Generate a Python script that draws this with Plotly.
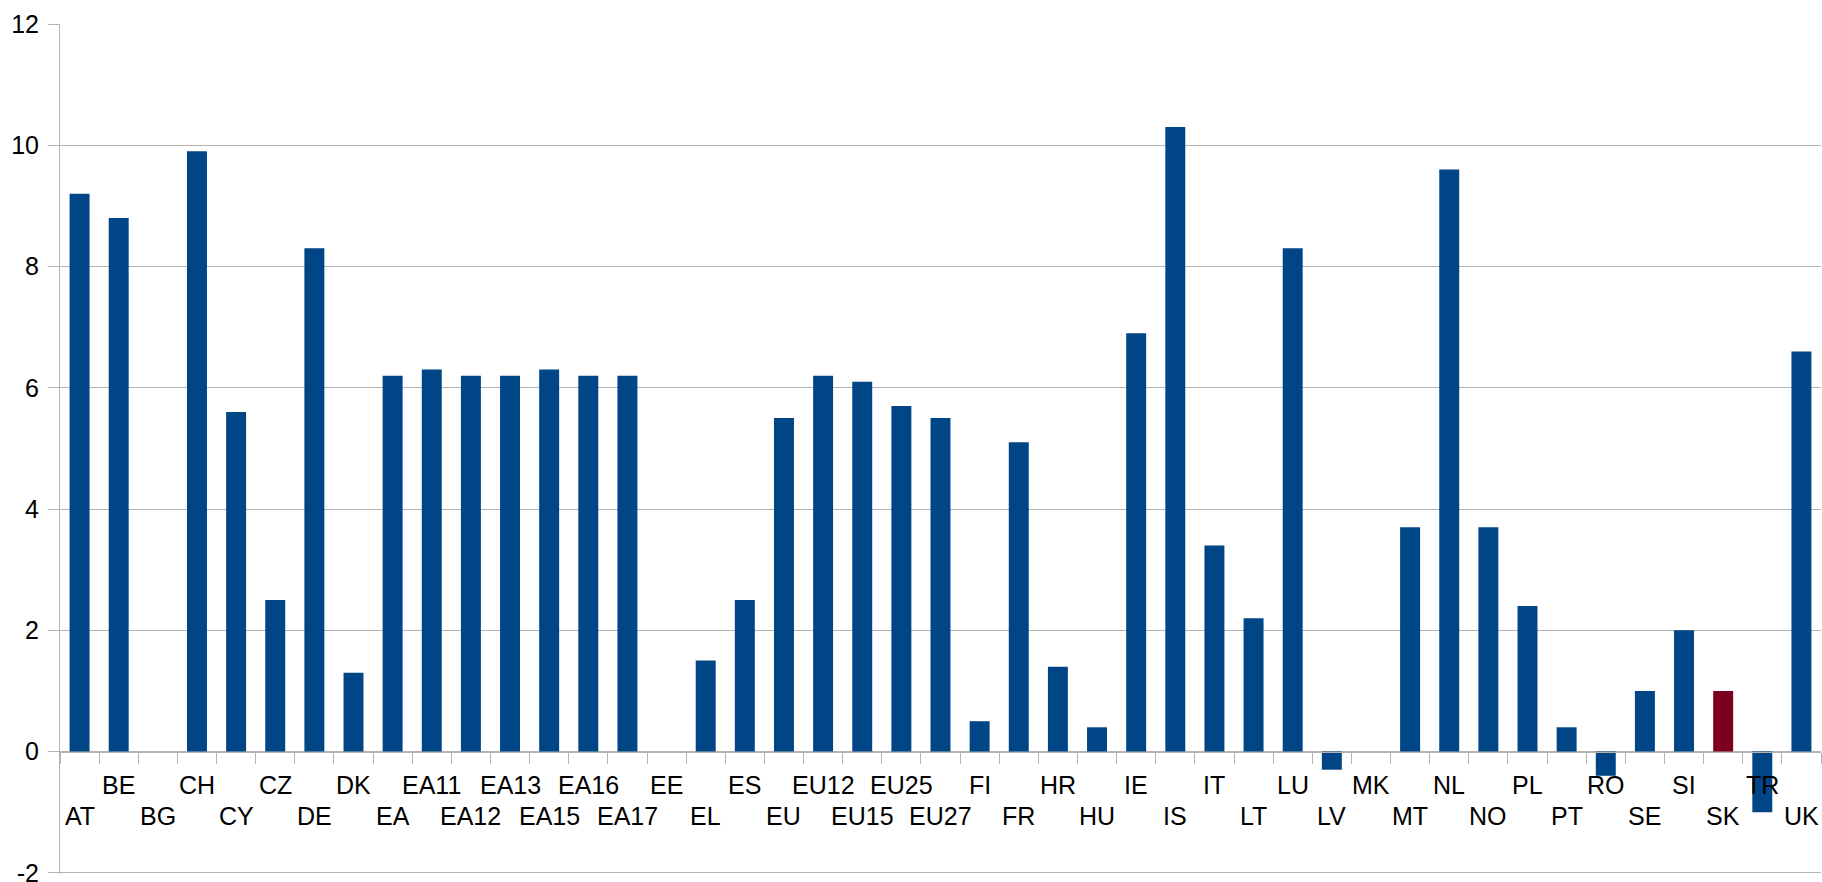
import plotly.graph_objects as go

categories = ["AT", "BE", "BG", "CH", "CY", "CZ", "DE", "DK", "EA", "EA11", "EA12", "EA13",
              "EA15", "EA16", "EA17", "EE", "EL", "ES", "EU", "EU12", "EU15", "EU25", "EU27",
              "FI", "FR", "HR", "HU", "IE", "IS", "IT", "LT", "LU", "LV", "MK", "MT", "NL",
              "NO", "PL", "PT", "RO", "SE", "SI", "SK", "TR", "UK"]
values = [9.2, 8.8, None, 9.9, 5.6, 2.5, 8.3, 1.3, 6.2, 6.3, 6.2, 6.2,
          6.3, 6.2, 6.2, None, 1.5, 2.5, 5.5, 6.2, 6.1, 5.7, 5.5,
          0.5, 5.1, 1.4, 0.4, 6.9, 10.3, 3.4, 2.2, 8.3, -0.3, None, 3.7, 9.6,
          3.7, 2.4, 0.4, -0.4, 1.0, 2.0, 1.0, -1.0, 6.6]
highlight = "SK"
y_ticks = [-2, 0, 2, 4, 6, 8, 10, 12]
y_tick_labels = ["-2", "0", "2", "4", "6", "8", "10", "12"]

BLUE = "#004586"
RED = "#7e0021"
GRID = "#b3b3b3"
FONT = "Liberation Sans, Arial, sans-serif"

colors = [RED if c == highlight else BLUE for c in categories]

fig = go.Figure()
fig.add_trace(go.Bar(x=categories, y=values, marker=dict(color=colors, line=dict(width=0)),
                     width=0.51, showlegend=False))

annotations = []
for i, c in enumerate(categories):
    upper = (i % 2 == 1)
    annotations.append(dict(x=c, y=0, xref="x", yref="y", text=c, showarrow=False,
                            xanchor="center", yanchor="middle",
                            yshift=-33 if upper else -64,
                            font=dict(family=FONT, size=25, color="#000000")))

ymin, ymax = y_ticks[0] - 0.02, y_ticks[-1]
fig.update_layout(
    width=1822, height=882,
    margin=dict(l=60, r=1, t=24, b=8, autoexpand=False),
    paper_bgcolor="white", plot_bgcolor="white",
    font=dict(family=FONT, size=25, color="#000000"),
    annotations=annotations,
    xaxis=dict(type="category", range=[-0.5, len(categories) - 0.5],
               anchor="free", position=(0 - ymin) / (ymax - ymin),
               showline=True, linecolor=GRID, linewidth=1,
               ticks="outside", tickson="boundaries", ticklen=11, tickcolor=GRID, tickwidth=1,
               showticklabels=False, showgrid=False, zeroline=False, automargin=False),
    yaxis=dict(range=[ymin, ymax], tickvals=y_ticks, ticktext=y_tick_labels,
               showgrid=True, gridcolor=GRID, gridwidth=1,
               showline=True, linecolor=GRID, linewidth=1,
               ticks="outside", ticklen=11, tickcolor=GRID, tickwidth=1,
               ticklabelstandoff=4, ticklabeloverflow="allow", automargin=False,
               zeroline=False, domain=[0, 1],
               tickfont=dict(family=FONT, size=25, color="#000000")),
)

fig.write_html("out.html", config={"displayModeBar": False},
               post_script="document.body.style.margin='0';document.body.style.overflow='hidden';")
